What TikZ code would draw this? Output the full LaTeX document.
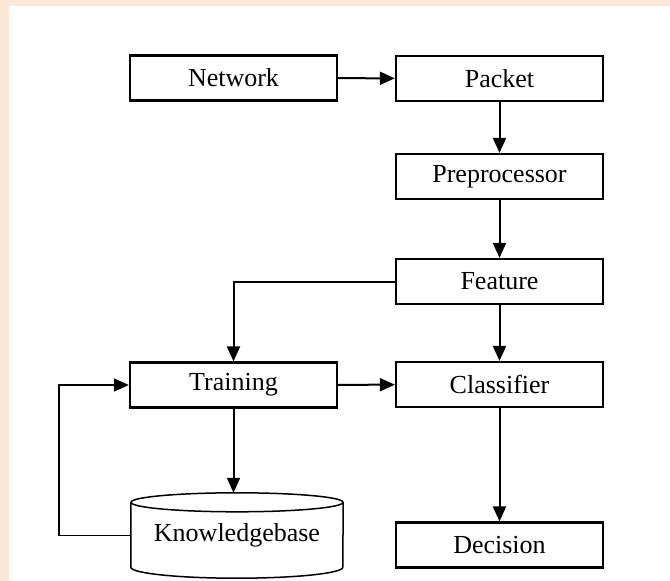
\documentclass[tikz,border=0pt]{standalone}
\usepackage{fontspec}
\setmainfont{Liberation Serif}
\usetikzlibrary{arrows.meta,calc}
\definecolor{peach}{RGB}{252,232,217}
\begin{document}
\begin{tikzpicture}[x=1pt,y=-1pt,
  box/.style={draw, line width=2.2pt, minimum width=207pt, minimum height=45pt, inner sep=0pt, font=\fontsize{26}{30}\selectfont},
  conn/.style={line width=2pt, -{Triangle[length=15pt,width=13pt]}},
  thinconn/.style={line width=1.6pt, -{Triangle[length=15pt,width=13pt]}},
  cyl/.style={line width=1.5pt}
  ]
\useasboundingbox (0,0) rectangle (670,581);
\fill[peach] (0,0) rectangle (670,581);
\fill[white] (9,6) rectangle (670,581);

\node[box] (net)   at (233.5,78)   {Network};
\node[box] (pkt)   at (499.5,78.5) {Packet};
\node[box] (pre)   at (499.5,176.5){Preprocessor};
\node[box] (feat)  at (499.5,281.5){Feature};
\node[box] (cls)   at (499.5,384.5){Classifier};
\node[box] (train) at (233.5,385)  {Training};
\node[box] (dec)   at (499.5,545)  {Decision};
\node[minimum width=212pt, minimum height=85pt, inner sep=0pt, font=\fontsize{26}{30}\selectfont] (kb) at (237,535.5) {Knowledgebase};

% cylinder outline
\draw[cyl] ($(kb.north)+(0,9.5)$) ellipse [x radius=106pt, y radius=9.5pt];
\draw[cyl] ($(kb.north west)+(0,9.5)$) -- ($(kb.south west)+(0,-11)$)
  arc[start angle=180, end angle=360, x radius=106pt, y radius=11pt]
  -- ($(kb.north east)+(0,9.5)$);

\draw[conn] (net) -- (pkt);
\draw[conn] (pkt) -- (pre);
\draw[conn] (pre) -- (feat);
\draw[conn] (feat) -- (cls);
\draw[conn] (cls) -- (dec);
\draw[conn] (train) -- (cls);
\draw[conn] (feat.west) -| (train.north);
\draw[conn] (train.south) -- (train.south |- kb.north);
\draw[thinconn] (kb.west) -- ++(-72,0) |- (train.west);
\end{tikzpicture}
\end{document}
